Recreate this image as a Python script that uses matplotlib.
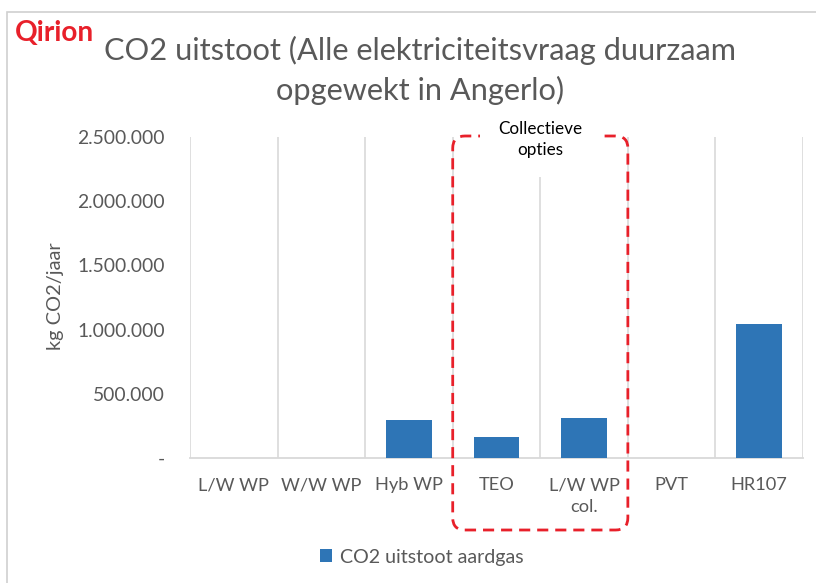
import numpy as np
import matplotlib
matplotlib.use("Agg")
import matplotlib.pyplot as plt
from matplotlib.patches import FancyBboxPatch, Rectangle

plt.rcParams['font.family'] = ['Lato', 'DejaVu Sans']

# data
categorieen = ['L/W WP', 'W/W WP', 'Hyb WP', 'TEO', 'L/W WP\ncol.', 'PVT', 'HR107']
co2_aardgas = [0, 0, 295000, 163000, 311000, 0, 1045000]
y_ticks = [0, 500000, 1000000, 1500000, 2000000, 2500000]
y_tick_labels = ['-', '500.000', '1.000.000', '1.500.000', '2.000.000', '2.500.000']

grijs = '#595959'
blauw = '#2E75B6'
rood = '#E8202A'
W, H = 816, 583

fig = plt.figure(figsize=(W / 100, H / 100), dpi=100)
ax = fig.add_axes([190 / W, 1 - 458 / H, 613 / W, 321 / H])
renderer = fig.canvas.get_renderer()


def breedte(t):
    bb = t.get_window_extent(renderer=renderer)
    return max(bb.width, bb.height)


def pas_aan(t, doel):
    # lettergrootte zo kiezen dat de tekst doel pixels lang is
    t.set_fontsize(t.get_fontsize() * doel / breedte(t))


x = np.arange(len(categorieen))
ax.bar(x, co2_aardgas, width=0.525, color=blauw, zorder=3, label='CO2 uitstoot aardgas')

ax.set_xlim(-0.5, len(categorieen) - 0.5)
ax.set_ylim(0, 2500000)
ax.set_yticks(y_ticks)
ax.set_yticklabels(y_tick_labels, fontsize=12, color=grijs)
ax.set_xticks(x)
ax.set_xticklabels(categorieen, fontsize=12, color=grijs, linespacing=1.4, va='top')
ax.tick_params(axis='both', length=0)
ax.tick_params(axis='y', pad=18)
ax.tick_params(axis='x', pad=14)

# verticale lijnen tussen de categorieen
ax.set_xticks(np.arange(-0.5, len(categorieen)), minor=True)
ax.tick_params(axis='x', which='minor', length=0)
ax.grid(which='minor', axis='x', color='#D9D9D9', linewidth=1.2, zorder=0)

for s in ['top', 'right', 'left']:
    ax.spines[s].set_visible(False)
ax.spines['bottom'].set_color('#D9D9D9')
ax.spines['bottom'].set_linewidth(1.3)

fig.canvas.draw()
f_y = 87 / breedte(ax.get_yticklabels()[-1])
f_x = 68 / breedte(ax.get_xticklabels()[2])
ax.tick_params(axis='y', labelsize=12 * f_y)
ax.tick_params(axis='x', labelsize=12 * f_x)

ylab = fig.text(56 / W, 1 - 296 / H, 'kg CO2/jaar', rotation=90, ha='center', va='center',
                fontsize=14, color=grijs)
pas_aan(ylab, 108)

# titel en logo
t1 = fig.text(420 / W, 1 - 50 / H, 'CO2 uitstoot (Alle elektriciteitsvraag duurzaam',
              ha='center', va='center', fontsize=20, color=grijs)
pas_aan(t1, 634)
fig.text(420 / W, 1 - 90 / H, 'opgewekt in Angerlo)',
         ha='center', va='center', fontsize=t1.get_fontsize(), color=grijs)
logo = fig.text(15 / W, 1 - 33 / H, 'Qirion', ha='left', va='center',
                fontsize=18, color=rood, fontweight='bold')
pas_aan(logo, 80)

# kader rond de grafiek
fig.add_artist(Rectangle((7 / W, -0.1), 1.2, 1 - 12 / H + 0.1, transform=fig.transFigure,
                         fill=False, edgecolor='#D0D0D0', linewidth=1.2))

# collectieve opties
inv = fig.transFigure.inverted()
y_tekst = inv.transform((0, H - 139.5))[1]
coll = ax.text(3.5, y_tekst, 'Collectieve\nopties', ha='center', va='center', fontsize=12,
               color='black', linespacing=1.45, zorder=8,
               transform=matplotlib.transforms.blended_transform_factory(ax.transData, fig.transFigure),
               bbox=dict(facecolor='white', edgecolor='none', pad=13))
regel = ax.text(0, 0, 'Collectieve', fontsize=12)
f_c = 84 / breedte(regel)
regel.remove()
coll.set_fontsize(12 * f_c)

x0 = inv.transform(ax.transData.transform((2.5, 0)))[0]
x1 = inv.transform(ax.transData.transform((4.5, 0)))[0]
y_top = 1 - 136 / H
y_bot = 1 - 530 / H
kader = FancyBboxPatch((x0, y_bot), x1 - x0, y_top - y_bot,
                       boxstyle='round,pad=0,rounding_size=0.015',
                       mutation_aspect=W / H,
                       transform=fig.transFigure, fill=False, edgecolor=rood,
                       linewidth=2, linestyle=(0, (4, 2.5)), zorder=6, clip_on=False)
ax.add_patch(kader)

leg = fig.legend(loc='center', bbox_to_anchor=(422 / W, 1 - 557 / H), frameon=False,
                 fontsize=13, labelcolor=grijs, handlelength=0.6, handleheight=0.6,
                 handletextpad=0.4)
fig.canvas.draw()
leg_f = 184 / breedte(leg.get_texts()[0])
leg.remove()
leg = fig.legend(loc='center', bbox_to_anchor=(422 / W, 1 - 557 / H), frameon=False,
                 fontsize=13 * leg_f, labelcolor=grijs, handlelength=0.6, handleheight=0.6,
                 handletextpad=0.4)

fig.savefig('out.png', dpi=100)
